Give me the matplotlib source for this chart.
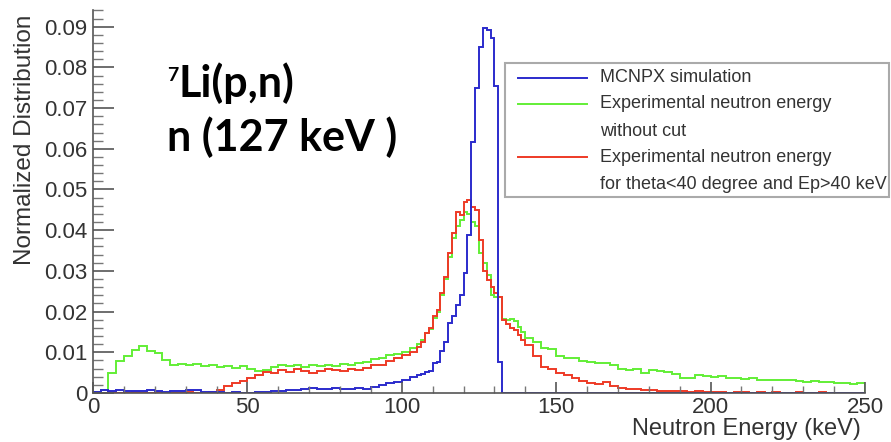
import numpy as np
import matplotlib
matplotlib.use("Agg")
import matplotlib.pyplot as plt
from matplotlib.lines import Line2D
from matplotlib.patches import Rectangle
from matplotlib.ticker import MultipleLocator, FuncFormatter

# bin edges: 2.5 keV bins, 1.25 keV bins around the peak
edges = np.concatenate([np.arange(0, 105, 2.5),
                        np.arange(105, 140, 1.25),
                        np.arange(140, 250.01, 2.5)])

# MCNPX simulation (blue)
blue_low = [0.0002, 0.0008, 0.0006, 0.0007, 0.0005, 0.0006, 0.0004, 0.0007, 0.0005, 0.0003,
            0.0005, 0.0004, 0.0008, 0.0007, 0.0003, 0.0002, 0.0002, 0.0001, 0.0002, 0.0001,
            0.0001, 0.0002, 0.0003, 0.0004, 0.0006, 0.0007, 0.0008, 0.0010, 0.0012, 0.0009,
            0.0011, 0.0013, 0.0010, 0.0011, 0.0012, 0.0011, 0.0015, 0.0019, 0.0024, 0.0028,
            0.0033, 0.0040]
blue_peak = [0.0044, 0.0046, 0.0052, 0.0055, 0.0073, 0.0075, 0.0102, 0.0126, 0.0171, 0.0188,
             0.0215, 0.0240, 0.0294, 0.0388, 0.0617, 0.0749, 0.0851, 0.0898, 0.0892, 0.0871,
             0.0754, 0.0077, 0.0, 0.0, 0.0, 0.0, 0.0, 0.0]
blue_tail = [0.0] * 44

# experimental, without cut (green)
green_low = [0.0003, 0.0008, 0.0050, 0.0078, 0.0092, 0.0105, 0.0115, 0.0103, 0.0098, 0.0080,
             0.0068, 0.0072, 0.0068, 0.0071, 0.0066, 0.0069, 0.0064, 0.0067, 0.0062, 0.0066,
             0.0058, 0.0054, 0.0056, 0.0065, 0.0070, 0.0066, 0.0069, 0.0064, 0.0069, 0.0066,
             0.0070, 0.0066, 0.0071, 0.0069, 0.0073, 0.0076, 0.0084, 0.0086, 0.0093, 0.0097,
             0.0100, 0.0110]
green_peak = [0.0120, 0.0130, 0.0147, 0.0158, 0.0185, 0.0200, 0.0240, 0.0280, 0.0335, 0.0380,
              0.0410, 0.0425, 0.0445, 0.0440, 0.0420, 0.0410, 0.0343, 0.0320, 0.0290, 0.0240,
              0.0237, 0.0235, 0.0182, 0.0180, 0.0183, 0.0176, 0.0163, 0.0150]
green_tail = [0.0135, 0.0126, 0.0110, 0.0108, 0.0092, 0.0086, 0.0085, 0.0078, 0.0076, 0.0073,
              0.0074, 0.0069, 0.0058, 0.0056, 0.0058, 0.0049, 0.0056, 0.0054, 0.0052, 0.0046,
              0.0037, 0.0036, 0.0045, 0.0042, 0.0040, 0.0041, 0.0038, 0.0036, 0.0035, 0.0037,
              0.0033, 0.0031, 0.0033, 0.0031, 0.0032, 0.0030, 0.0027, 0.0029, 0.0027, 0.0028,
              0.0024, 0.0025, 0.0023, 0.0025]

# experimental, theta<40 deg and Ep>40 keV (red)
red_low = [0.0001, 0.0001, 0.0002, 0.0001, 0.0001, 0.0002, 0.0001, 0.0001, 0.0002, 0.0001,
           0.0001, 0.0001, 0.0002, 0.0001, 0.0001, 0.0002, 0.0008, 0.0016, 0.0025, 0.0030,
           0.0038, 0.0045, 0.0052, 0.0050, 0.0056, 0.0052, 0.0058, 0.0054, 0.0050, 0.0054,
           0.0060, 0.0057, 0.0055, 0.0059, 0.0056, 0.0062, 0.0070, 0.0068, 0.0078, 0.0085,
           0.0093, 0.0100]
red_peak = [0.0113, 0.0125, 0.0147, 0.0160, 0.0188, 0.0205, 0.0245, 0.0286, 0.0343, 0.0392,
            0.0445, 0.0437, 0.0470, 0.0474, 0.0458, 0.0450, 0.0376, 0.0300, 0.0278, 0.0260,
            0.0245, 0.0236, 0.0179, 0.0170, 0.0160, 0.0155, 0.0142, 0.0130]
red_tail = [0.0118, 0.0092, 0.0065, 0.0060, 0.0050, 0.0044, 0.0036, 0.0029, 0.0025, 0.0022,
            0.0026, 0.0016, 0.0012, 0.0009, 0.0010, 0.0007, 0.0008, 0.0006, 0.0005, 0.0006,
            0.0004, 0.0003, 0.0004, 0.0002, 0.0002, 0.0003, 0.0001, 0.0002, 0.0002, 0.0001,
            0.0003, 0.0001, 0.0002, 0.0001, 0.0001, 0.0002, 0.0001, 0.0001, 0.0002, 0.0001,
            0.0001, 0.0001, 0.0000, 0.0001]

legend_rows = ["MCNPX simulation", "Experimental neutron energy", "without cut",
               "Experimental neutron energy", "for theta<40 degree and Ep>40 keV"]
colors = ["#2b2bcc", "#62ee36", "#ee3a26"]

blue = np.array(blue_low + blue_peak + blue_tail)
green = np.array(green_low + green_peak + green_tail)
red = np.array(red_low + red_peak + red_tail)

W, H = 891, 442
fig = plt.figure(figsize=(W / 100, H / 100), dpi=100)
ax = fig.add_axes([93 / W, 49 / H, 772 / W, 383.4 / H])

ax.stairs(green, edges, color=colors[1], lw=1.4, baseline=0)
ax.stairs(red, edges, color=colors[2], lw=1.4, baseline=0)
ax.stairs(blue, edges, color=colors[0], lw=1.4, baseline=0)

ax.set_xlim(0, 250)
ax.set_ylim(0, 0.0942)
for s in ["top", "right"]:
    ax.spines[s].set_visible(False)
for s in ["left", "bottom"]:
    ax.spines[s].set_color("#555555")
    ax.spines[s].set_linewidth(1.2)

ax.xaxis.set_major_locator(MultipleLocator(50))
ax.xaxis.set_minor_locator(MultipleLocator(10))
ax.yaxis.set_major_locator(MultipleLocator(0.01))
ax.yaxis.set_minor_locator(MultipleLocator(0.002))
ax.yaxis.set_major_formatter(FuncFormatter(lambda v, p: "0" if abs(v) < 1e-9 else f"{v:.2f}"))
ax.xaxis.set_major_formatter(FuncFormatter(lambda v, p: f"{v:.0f}"))

ax.tick_params(axis="y", which="major", direction="in", length=15, width=1.2,
               color="#555555", labelsize=16, labelcolor="#333333", pad=4)
ax.tick_params(axis="y", which="minor", direction="in", length=7, width=1.0, color="#777777")
ax.tick_params(axis="x", which="major", direction="in", length=8, width=1.2,
               color="#555555", labelsize=16, labelcolor="#333333", pad=3)
ax.tick_params(axis="x", which="minor", direction="in", length=5, width=1.0, color="#777777")
for lab in ax.get_xticklabels() + ax.get_yticklabels():
    lab.set_family("Liberation Sans")

ax.set_xlabel("Neutron Energy (keV)", family="Liberation Sans", fontsize=17,
              color="#333333", ha="right")
ax.xaxis.set_label_coords(0.995, -0.066)
ax.set_ylabel("Normalized Distribution", family="Liberation Sans", fontsize=17.5,
              color="#333333", loc="top")
ax.yaxis.set_label_coords(-0.074, 0.986)


def fx(x):
    return x / W


def fy(y):
    return 1 - y / H


# reaction label
fig.text(fx(167), fy(81), "7", family="Lato", weight="bold", fontsize=14, color="black")
fig.text(fx(179), fy(97), "Li(p,n)", family="Lato", weight="bold", fontsize=31, color="black")
fig.text(fx(167), fy(151), "n (127 keV )", family="Lato", weight="bold", fontsize=31, color="black")

# legend box
fig.add_artist(Rectangle((fx(505), fy(197)), fx(889) - fx(505), fy(63) - fy(197),
                         transform=fig.transFigure, fill=False, ec="#aaaaaa", lw=1.5))
rows = [78, 104, 131, 157, 184]
line_rows = [78, 104, 157]
for yy, c in zip(line_rows, colors):
    fig.add_artist(Line2D([fx(518), fx(587)], [fy(yy), fy(yy)], color=c, lw=1.4,
                          transform=fig.transFigure))
for yy, t in zip(rows, legend_rows):
    fig.text(fx(600), fy(yy), t, family="Liberation Sans", fontsize=13,
             color="#333333", va="center")

fig.savefig("out.png", dpi=100)
